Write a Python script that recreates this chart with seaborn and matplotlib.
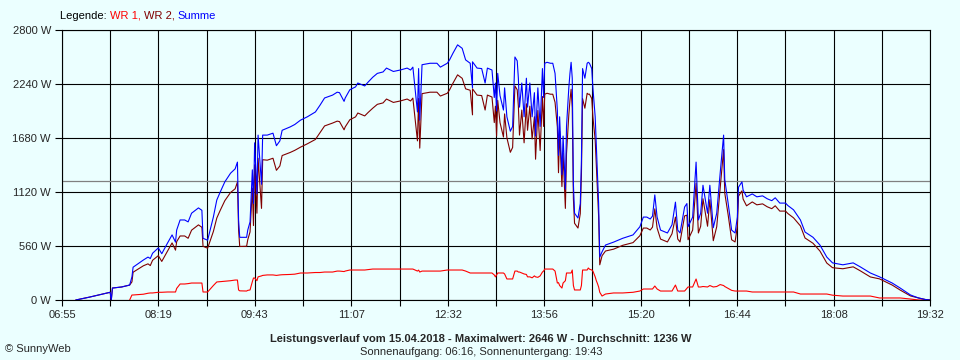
import numpy as np
import pandas as pd
import matplotlib
matplotlib.use("Agg")
import matplotlib.pyplot as plt
import seaborn as sns

# time of each reading (HH:MM) and power values in W
times = [
    "07:07", "07:11", "07:19", "07:28", "07:35", "07:37", "07:38", "07:39", "07:47", "07:54",
    "07:56", "07:57", "08:06", "08:10", "08:12", "08:14", "08:19", "08:22", "08:27", "08:31",
    "08:34", "08:35", "08:38", "08:42", "08:45", "08:48", "08:54", "08:57", "08:58", "09:02",
    "09:07", "09:10", "09:13", "09:17", "09:22", "09:26", "09:28", "09:29", "09:30", "09:36",
    "09:37", "09:39", "09:41", "09:42", "09:43", "09:45", "09:46", "09:49", "09:50", "09:54",
    "09:59", "10:02", "10:05", "10:07", "10:14", "10:18", "10:23", "10:29", "10:36", "10:40",
    "10:44", "10:51", "10:55", "10:57", "11:01", "11:02", "11:06", "11:11", "11:13", "11:19",
    "11:22", "11:26", "11:30", "11:35", "11:38", "11:44", "11:50", "11:56", "11:59", "12:01",
    "12:05", "12:06", "12:07", "12:09", "12:16", "12:22", "12:25", "12:31", "12:33", "12:36",
    "12:40", "12:44", "12:47", "12:51", "12:53", "12:53", "12:57", "13:01", "13:04", "13:06",
    "13:10", "13:12", "13:13", "13:14", "13:15", "13:17", "13:20", "13:21", "13:23", "13:26",
    "13:28", "13:30", "13:32", "13:33", "13:34", "13:36", "13:38", "13:40", "13:41", "13:43",
    "13:45", "13:47", "13:48", "13:50", "13:52", "13:54", "13:55", "13:56", "13:58", "14:01",
    "14:03", "14:05", "14:07", "14:08", "14:09", "14:11", "14:12", "14:14", "14:15", "14:17",
    "14:18", "14:19", "14:20", "14:21", "14:22", "14:25", "14:27", "14:28", "14:29", "14:31",
    "14:33", "14:34", "14:35", "14:37", "14:38", "14:40", "14:41", "14:42", "14:43", "14:44",
    "14:46", "14:49", "14:56", "15:04", "15:13", "15:19", "15:22", "15:25", "15:28", "15:30",
    "15:32", "15:34", "15:37", "15:43", "15:47", "15:50", "15:52", "15:54", "15:58", "16:00",
    "16:01", "16:05", "16:08", "16:10", "16:12", "16:14", "16:18", "16:20", "16:23", "16:26",
    "16:29", "16:32", "16:33", "16:36", "16:39", "16:42", "16:44", "16:45", "16:48", "16:49",
    "16:52", "16:57", "17:01", "17:06", "17:10", "17:14", "17:17", "17:21", "17:26", "17:28",
    "17:33", "17:39", "17:43", "17:50", "17:56", "18:02", "18:07", "18:16", "18:25", "18:31",
    "18:40", "18:48", "18:59", "19:06", "19:15", "19:22", "19:28", "19:32",
]

summe = [
    0, 10, 30, 55, 75, 80, 0, 124, 135, 155,
    240, 340, 415, 445, 430, 485, 540, 480, 590, 675,
    600, 725, 830, 830, 810, 900, 955, 930, 640, 620,
    860, 1037, 1120, 1225, 1315, 1360, 1430, 830, 650, 650,
    725, 810, 1350, 1000, 1630, 1100, 1710, 1200, 1710, 1710,
    1730, 1600, 1650, 1760, 1795, 1820, 1865, 1900, 1950, 2020,
    2095, 2125, 2155, 2150, 2060, 2095, 2180, 2210, 2250, 2220,
    2260, 2310, 2350, 2365, 2405, 2370, 2385, 2405, 2385, 2415,
    1950, 2400, 1865, 2440, 2455, 2455, 2415, 2455, 2490, 2560,
    2646, 2610, 2490, 2455, 2200, 2470, 2405, 2400, 2250, 2405,
    2385, 2100, 2250, 1960, 2350, 2120, 1970, 2200, 1900, 1750,
    1800, 2520, 2480, 2300, 2000, 2250, 1900, 2300, 2000, 2250,
    1900, 2150, 1700, 2200, 1800, 2400, 2100, 2455, 2465, 2455,
    2455, 2350, 1970, 1500, 1900, 1300, 1700, 1150, 1800, 2200,
    2350, 2465, 2300, 1200, 900, 850, 1000, 1450, 2400, 2300,
    2455, 2465, 2455, 2400, 2200, 1900, 1600, 1300, 1000, 445,
    500, 570, 600, 640, 675, 760, 860, 860, 840, 870,
    1090, 860, 725, 695, 780, 1015, 725, 695, 965, 1000,
    760, 860, 1430, 830, 900, 1190, 900, 1190, 750, 900,
    1315, 1710, 1250, 1000, 725, 695, 860, 1170, 1225, 1140,
    1070, 1100, 1070, 1080, 1050, 1030, 1060, 1005, 1005, 980,
    935, 830, 705, 650, 570, 445, 385, 365, 385, 345,
    280, 240, 176, 124, 52, 21, 5, 0,
]

nan = np.nan
wr1 = [
    nan, nan, nan, nan, nan, nan, nan, nan, nan, 0,
    52, 52, 60, 70, 73, 73, 80, 80, 83, 83,
    83, 120, 166, 166, 170, 176, 176, 176, 83, 83,
    150, 187, 190, 195, 200, 207, 207, 104, 95, 93,
    100, 104, 190, 228, 228, 200, 240, 250, 255, 260,
    260, 255, 260, 262, 265, 268, 280, 280, 285, 285,
    290, 290, 300, 300, 295, 300, 311, 311, 311, 311,
    315, 321, 321, 321, 321, 321, 321, 321, 321, 321,
    300, 310, 290, 300, 300, 300, 300, 311, 311, 311,
    311, 311, 300, 280, 280, 280, 280, 280, 280, 280,
    280, 260, 240, 260, 280, 280, 280, 270, 218, 218,
    218, 300, 300, 290, 290, 280, 270, 265, 240, 240,
    230, 250, 240, 235, 250, 290, 300, 321, 321, 321,
    321, 300, 176, 180, 150, 124, 176, 200, 280, 280,
    280, 280, 311, 150, 104, 104, 104, 150, 311, 311,
    311, 332, 320, 311, 300, 240, 200, 170, 135, 80,
    41, 62, 73, 73, 80, 93, 114, 114, 114, 114,
    145, 114, 93, 93, 93, 155, 93, 93, 93, 120,
    135, 135, 218, 135, 135, 140, 135, 150, 135, 140,
    160, 150, 140, 120, 100, 93, 93, 93, 93, 93,
    93, 83, 83, 83, 83, 83, 83, 83, 83, 83,
    83, 62, 62, 62, 62, 62, 50, 41, 41, 41,
    41, 21, 21, 21, 10, 0, 0, 0,
]

x_labels = ["06:55", "08:19", "09:43", "11:07", "12:32",
            "13:56", "15:20", "16:44", "18:08", "19:32"]
y_values = [0, 560, 1120, 1680, 2240, 2800]
durchschnitt = 1236

bg = "#EBFFFF"

df = pd.DataFrame({"zeit": times, "summe": summe, "wr1": wr1})
df["minute"] = df["zeit"].str[:2].astype(int) * 60 + df["zeit"].str[3:].astype(int)
df["wr2"] = df["summe"] - df["wr1"].fillna(0)

sns.set_theme(style="white", rc={"axes.facecolor": bg, "figure.facecolor": bg})
plt.rcParams["font.family"] = ["Liberation Sans", "DejaVu Sans"]

fig = plt.figure(figsize=(9.6, 3.6), dpi=100)
ax = fig.add_axes([62 / 960, 60 / 360, 868 / 960, 270 / 360])

# mean power line
ax.axhline(durchschnitt, color="#808080", lw=0.9, zorder=1.5)

sns.lineplot(data=df, x="minute", y="wr1", color="#FF0000", lw=0.8,
             estimator=None, sort=False, ax=ax)
sns.lineplot(data=df, x="minute", y="wr2", color="#800000", lw=0.8,
             estimator=None, sort=False, ax=ax)
sns.lineplot(data=df, x="minute", y="summe", color="#0000FF", lw=0.8,
             estimator=None, sort=False, ax=ax)

start, end = 6 * 60 + 55, 19 * 60 + 32
ax.set_xlim(start, end)
ax.set_ylim(0, 2800)
ax.set_xticks(np.linspace(start, end, len(x_labels)))
ax.set_xticklabels(x_labels)
ax.set_xticks(np.linspace(start, end, 2 * len(x_labels) - 1), minor=True)
ax.set_yticks(y_values)
ax.set_yticklabels([f"{v} W" for v in y_values])
ax.set_xlabel("")
ax.set_ylabel("")

ax.grid(which="both", axis="x", color="black", lw=0.8)
ax.grid(which="major", axis="y", color="black", lw=0.8)
ax.set_axisbelow(True)
for side in ax.spines.values():
    side.set_color("black")
    side.set_linewidth(0.8)

ax.tick_params(axis="x", which="both", direction="out", length=4, width=0.8,
               color="black", pad=3, labelsize=8, bottom=True)
ax.tick_params(axis="y", direction="out", length=5, width=0.8,
               color="black", pad=3, labelsize=8, left=True)

# legend as coloured text pieces
renderer = fig.canvas.get_renderer()
xpos = 60 / 960
for txt, col in [("Legende: ", "black"), ("WR 1, ", "#FF0000"),
                 ("WR 2, ", "#800000"), ("Summe", "#0000FF")]:
    t = fig.text(xpos, 1 - 16 / 360, txt, color=col, fontsize=8, va="center", ha="left")
    bb = t.get_window_extent(renderer=renderer)
    xpos += bb.width / fig.bbox.width

fig.text(481 / 960, 1 - 339 / 360,
         "Leistungsverlauf vom 15.04.2018 - Maximalwert: 2646 W - Durchschnitt: 1236 W",
         fontsize=8, fontweight="bold", ha="center", va="center")
fig.text(481 / 960, 1 - 352 / 360, "Sonnenaufgang: 06:16, Sonnenuntergang: 19:43",
         fontsize=8, ha="center", va="center")
fig.text(5 / 960, 1 - 349 / 360, "© SunnyWeb", fontsize=8, ha="left", va="center")

fig.savefig("out.png", dpi=100, facecolor=bg)
